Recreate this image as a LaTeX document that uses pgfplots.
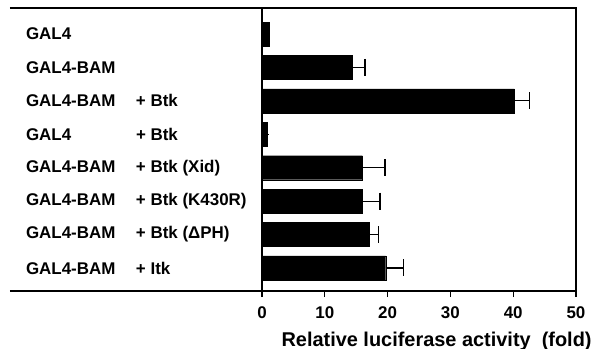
\documentclass[border=0pt]{standalone}
\usepackage{pgfplots}
\pgfplotsset{compat=1.18}
\usepackage{pgfplotstable}
\usepackage{fontspec}
\setmainfont{Liberation Sans}
\newcommand\lab[2]{\makebox[110bp][l]{#1}#2}

\pgfplotstableread{
y v e
8 1.1 0.01
7 14.3 2.1
6 40.2 2.4
5 0.9 0.01
4 16.0 3.6
3 16.0 2.8
2 17.1 1.4
1 19.7 2.8
}\bars

\begin{document}
\begin{tikzpicture}
\path[use as bounding box] (-262bp,-58bp) rectangle (329bp,291bp);
\begin{axis}[
  at={(0,0)}, anchor=south west,
  scale only axis, width=314bp, height=283bp,
  xmin=0, xmax=50, ymin=0.31, ymax=8.78,
  xbar, bar width=24bp, bar shift=0pt,
  axis line style={line width=1.3bp},
  xtick={0,10,...,50},
  tick align=outside, xtick pos=bottom,
  major tick length=6bp,
  xtick style={line width=1.2bp, black},
  ytick={1,...,8}, ytick style={draw=none},
  yticklabels={
    \lab{GAL4-BAM}{+ Itk},
    \lab{GAL4-BAM}{+ Btk (ΔPH)},
    \lab{GAL4-BAM}{+ Btk (K430R)},
    \lab{GAL4-BAM}{+ Btk (Xid)},
    \lab{GAL4}{+ Btk},
    \lab{GAL4-BAM}{+ Btk},
    \lab{GAL4-BAM}{},
    \lab{GAL4}{}},
  yticklabel style={anchor=west, xshift=-233.5bp, font=\fontsize{17}{19}\selectfont\bfseries},
  xticklabel style={yshift=-6bp, font=\fontsize{17}{19}\selectfont\bfseries},
  /pgf/number format/assume math mode=true,
  xlabel={Relative luciferase activity\ \ (fold)},
  xlabel style={at={(rel axis cs:0.556,0)}, anchor=center, yshift=-50bp, font=\fontsize{20}{22}\selectfont\bfseries},
]
\addplot[fill=black, draw=black,
  error bars/.cd, x dir=plus, x explicit, error mark=|,
  error bar style={line width=1.2bp, black},
  error mark options={line width=1.2bp, mark size=8.5bp, black}]
  table[x=v, y=y, x error=e] {\bars};
\end{axis}
\draw[line width=1.3bp] (-252bp,0) -- (0,0);
\draw[line width=1.3bp] (-252bp,283bp) -- (0,283bp);
\end{tikzpicture}
\end{document}
